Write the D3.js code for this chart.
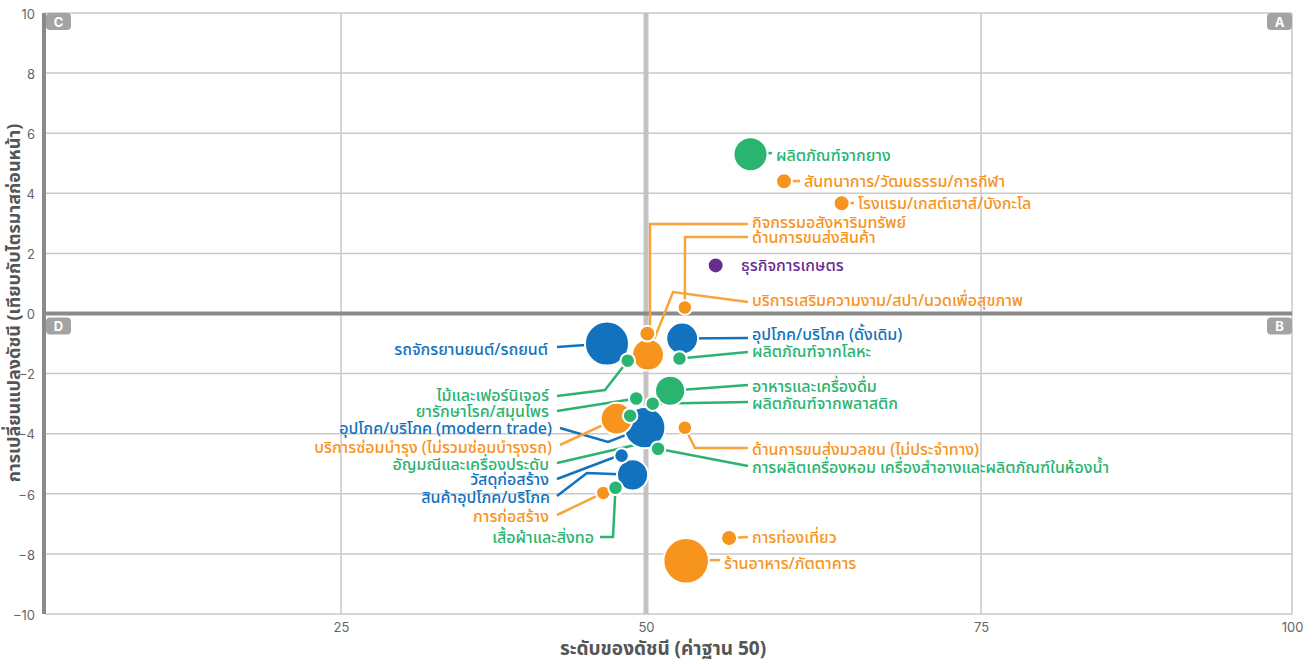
<!DOCTYPE html>
<html>
<head>
<meta charset="utf-8">
<script src="https://cdn.jsdelivr.net/npm/d3@7"></script>
<style>
  html, body { margin: 0; padding: 0; background: #fff; }
  svg { display: block; font-family: "Noto Sans Thai", "Noto Sans", "DejaVu Sans", sans-serif; }
</style>
</head>
<body>
<svg id="chart" width="1313" height="664"></svg>
<script>
// ---------- DATA ----------
const categories = [
  "ผลิตภัณฑ์จากยาง",
  "สันทนาการ/วัฒนธรรม/การกีฬา",
  "โรงแรม/เกสต์เฮาส์/บังกะโล",
  "กิจกรรมอสังหาริมทรัพย์",
  "ด้านการขนส่งสินค้า",
  "ธุรกิจการเกษตร",
  "บริการเสริมความงาม/สปา/นวดเพื่อสุขภาพ",
  "อุปโภค/บริโภค (ดั้งเดิม)",
  "ผลิตภัณฑ์จากโลหะ",
  "อาหารและเครื่องดื่ม",
  "ผลิตภัณฑ์จากพลาสติก",
  "ด้านการขนส่งมวลชน (ไม่ประจำทาง)",
  "การผลิตเครื่องหอม เครื่องสำอางและผลิตภัณฑ์ในห้องน้ำ",
  "การท่องเที่ยว",
  "ร้านอาหาร/ภัตตาคาร",
  "รถจักรยานยนต์/รถยนต์",
  "ไม้และเฟอร์นิเจอร์",
  "ยารักษาโรค/สมุนไพร",
  "อุปโภค/บริโภค (modern trade)",
  "บริการซ่อมบำรุง (ไม่รวมซ่อมบำรุงรถ)",
  "อัญมณีและเครื่องประดับ",
  "วัสดุก่อสร้าง",
  "สินค้าอุปโภค/บริโภค",
  "การก่อสร้าง",
  "เสื้อผ้าและสิ่งทอ"
];
// sector of each category: trade / manufacturing / services / agriculture
const sectors = [
  "manufacturing", "services", "services", "services", "services",
  "agriculture", "services", "trade", "manufacturing", "manufacturing",
  "manufacturing", "services", "manufacturing", "services", "services",
  "trade", "manufacturing", "manufacturing", "trade", "services",
  "manufacturing", "trade", "trade", "services", "manufacturing"
];
// index level (base 50)
const indexLevel = [
  57.8, 60.3, 64.6, 50.1, 52.9,
  55.2, 50.15, 52.7, 52.5, 51.8,
  50.5, 52.9, 50.9, 56.2, 53.0,
  46.8, 48.5, 49.2, 49.9, 47.6,
  48.7, 48.0, 48.9, 46.5, 47.5
];
// change vs previous quarter
const indexChange = [
  5.3, 4.4, 3.67, -0.67, 0.2,
  1.6, -1.37, -0.83, -1.5, -2.57,
  -3.0, -3.8, -4.5, -7.47, -8.23,
  -1.0, -1.57, -2.83, -3.8, -3.5,
  -3.4, -4.73, -5.37, -5.97, -5.8
];
// bubble size
const bubbleSize = [
  55, 12, 12, 12, 10,
  12, 48, 48, 10, 43,
  10, 10, 10, 12, 98,
  92, 10, 10, 80, 48,
  10, 10, 46, 10, 10
];
const xTicks = [25, 50, 75, 100];
const yTicks = [-10, -8, -6, -4, -2, 0, 2, 4, 6, 8, 10];
const quadrants = ["A", "B", "C", "D"];

// ---------- STYLE / LAYOUT ----------
const sectorColor = {
  trade: "#1272bd",
  manufacturing: "#2bb370",
  services: "#f7941d",
  agriculture: "#662d91"
};
const leaderColor = {
  trade: "#1272bd",
  manufacturing: "#2bb370",
  services: "#f9a43a",
  agriculture: "#662d91"
};

// label layout (pixels): text anchor position, side, and leader elbow points
const labelLayout = [
  { tx: 776, ty: 155, anchor: "start", path: [[772, 153]] },
  { tx: 804, ty: 181, anchor: "start", path: [[800, 181]] },
  { tx: 858, ty: 203, anchor: "start", path: [[854, 203]] },
  { tx: 752, ty: 222, anchor: "start", path: [[650, 330], [650, 224], [748, 224]] },
  { tx: 752, ty: 237, anchor: "start", path: [[685, 237], [748, 237]] },
  { tx: 741, ty: 265, anchor: "start", path: [] },
  { tx: 752, ty: 300, anchor: "start", path: [[673, 292], [748, 302]] },
  { tx: 752, ty: 334, anchor: "start", path: [[748, 338]] },
  { tx: 752, ty: 351, anchor: "start", path: [[748, 352]] },
  { tx: 752, ty: 386, anchor: "start", path: [[748, 385]] },
  { tx: 752, ty: 403, anchor: "start", path: [[748, 402]] },
  { tx: 752, ty: 449, anchor: "start", path: [[695, 448], [748, 448]] },
  { tx: 752, ty: 467, anchor: "start", path: [[748, 466]] },
  { tx: 752, ty: 537, anchor: "start", path: [[748, 537]] },
  { tx: 724, ty: 563, anchor: "start", path: [[720, 560]] },
  { tx: 548, ty: 349, anchor: "end", path: [[557, 347]] },
  { tx: 549, ty: 395, anchor: "end", path: [[605, 390], [557, 396]] },
  { tx: 549, ty: 411, anchor: "end", path: [[557, 411]] },
  { tx: 552, ty: 428, anchor: "end", path: [[608, 442], [560, 428]] },
  { tx: 552, ty: 447, anchor: "end", path: [[560, 445]] },
  { tx: 549, ty: 464, anchor: "end", path: [[635, 445], [557, 463]] },
  { tx: 549, ty: 479, anchor: "end", path: [[615, 457], [557, 479]] },
  { tx: 550, ty: 497, anchor: "end", path: [[587, 473], [557, 496]] },
  { tx: 549, ty: 516, anchor: "end", path: [[557, 515]] },
  { tx: 594, ty: 537, anchor: "end", path: [[613, 537], [600, 537]] }
];

// ---------- CHART ----------
(function () {
const svg = d3.select("#chart");
const pL = 45, pR = 1292, pT = 13, pB = 614;

const x = d3.scaleLinear().domain([0, 25, 50, 75, 100]).range([pL, 341, 646, 981, pR]);
const y = d3.scaleLinear().domain([-10, 10]).range([pB, pT]);
const r = d3.scaleSqrt().domain([0, 100]).range([0, 23]);

// grid
const grid = svg.append("g");
grid.selectAll("line.h").data(yTicks).join("line")
  .attr("x1", pL).attr("x2", pR)
  .attr("y1", d => y(d)).attr("y2", d => y(d))
  .attr("stroke", "#c9c9c9").attr("stroke-width", 1.5);
grid.selectAll("line.v").data(xTicks.filter(d => d !== 50)).join("line")
  .attr("x1", d => x(d)).attr("x2", d => x(d))
  .attr("y1", pT).attr("y2", pB)
  .attr("stroke", "#c9c9c9").attr("stroke-width", 1.5);

// center vertical (50)
svg.append("line")
  .attr("x1", x(50)).attr("x2", x(50)).attr("y1", pT).attr("y2", pB)
  .attr("stroke", "#c3c3c3").attr("stroke-width", 5);
// zero line
svg.append("line")
  .attr("x1", pL - 2).attr("x2", pR).attr("y1", y(0)).attr("y2", y(0))
  .attr("stroke", "#8a8a8a").attr("stroke-width", 4);
// left axis line
svg.append("line")
  .attr("x1", pL - 1).attr("x2", pL - 1).attr("y1", pT).attr("y2", pB)
  .attr("stroke", "#8a8a8a").attr("stroke-width", 4);

// axes ticks
const yAxis = d3.axisLeft(y).tickValues(yTicks).tickSize(0).tickPadding(9).tickFormat(d3.format("d"));
const gy = svg.append("g").attr("transform", `translate(${pL - 1},0)`).call(yAxis);
gy.select(".domain").remove();
gy.selectAll("text").attr("fill", "#666").attr("font-size", 13)
  .attr("font-family", "Inter, 'Noto Sans', sans-serif").attr("dy", "0.4em");

const xAxis = d3.axisBottom(x).tickValues(xTicks).tickSize(0).tickPadding(9);
const gx = svg.append("g").attr("transform", `translate(0,${pB})`).call(xAxis);
gx.select(".domain").remove();
gx.selectAll("text").attr("fill", "#666").attr("font-size", 13)
  .attr("font-family", "Inter, 'Noto Sans', sans-serif");

// axis titles
svg.append("text")
  .attr("x", 663).attr("y", 655)
  .attr("text-anchor", "middle").attr("font-size", 19).attr("font-weight", 700)
  .attr("fill", "#555").text("ระดับของดัชนี (ค่าฐาน 50)");
svg.append("text")
  .attr("transform", `translate(20,${303}) rotate(-90)`)
  .attr("text-anchor", "middle").attr("font-size", 18).attr("font-weight", 700)
  .attr("fill", "#555").text("การเปลี่ยนแปลงดัชนี (เทียบกับไตรมาสก่อนหน้า)");

// quadrant badges
const badgePos = {
  A: [pR - 25, pT], B: [pR - 25, y(0) + 4],
  C: [pL + 1, pT], D: [pL + 1, y(0) + 4]
};
const badges = svg.append("g").selectAll("g").data(quadrants).join("g")
  .attr("transform", d => `translate(${badgePos[d][0]},${badgePos[d][1]})`);
badges.append("rect").attr("width", 25).attr("height", 17).attr("rx", 4)
  .attr("fill", "#a3a3a3");
badges.append("text").attr("x", 12.5).attr("y", 13.5).attr("text-anchor", "middle")
  .attr("font-size", 13).attr("font-weight", 700).attr("fill", "#fff")
  .attr("font-family", "Inter, 'Noto Sans', sans-serif").text(d => d);

// build rows
const rows = categories.map((c, i) => ({
  name: c, sector: sectors[i], xv: indexLevel[i], yv: indexChange[i], z: bubbleSize[i], lay: labelLayout[i]
}));

// leaders
svg.append("g").selectAll("path").data(rows.filter(d => d.lay.path.length)).join("path")
  .attr("d", d => d3.line()([[x(d.xv), y(d.yv)], ...d.lay.path]))
  .attr("fill", "none")
  .attr("stroke", d => leaderColor[d.sector])
  .attr("stroke-width", 2.5);

// bubbles (largest first)
svg.append("g").selectAll("circle")
  .data(rows.slice().sort((a, b) => b.z - a.z)).join("circle")
  .attr("cx", d => x(d.xv)).attr("cy", d => y(d.yv)).attr("r", d => r(d.z))
  .attr("fill", d => sectorColor[d.sector])
  .attr("stroke", "#fff").attr("stroke-width", 2);

// labels
svg.append("g").selectAll("text").data(rows).join("text")
  .attr("x", d => d.lay.tx).attr("y", d => d.lay.ty)
  .attr("dy", "0.35em")
  .attr("text-anchor", d => d.lay.anchor)
  .attr("font-size", 16).attr("font-weight", 500)
  .attr("fill", d => sectorColor[d.sector])
  .text(d => d.name);
})();
</script>
</body>
</html>
